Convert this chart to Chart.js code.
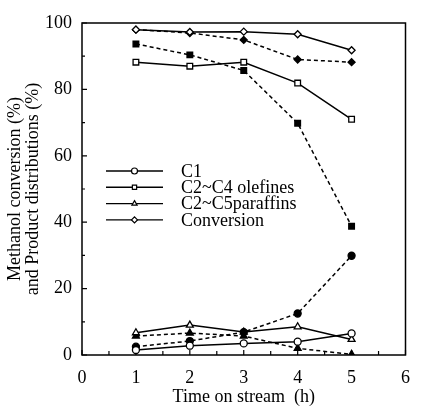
<!DOCTYPE html>
<html>
<head>
<meta charset="utf-8">
<script src="https://cdn.jsdelivr.net/npm/chart.js@4.4.1/dist/chart.umd.min.js"></script>
<style>
html,body{margin:0;padding:0;background:#fff;}
#wrap{width:422px;height:408px;position:relative;}
</style>
</head>
<body>
<div id="wrap"><canvas id="c" width="422" height="408"></canvas></div>
<script>
const times = [1, 2, 3, 4, 5];
const c1Solid = [1.5, 2.8, 3.5, 4.0, 6.5];
const c1Dashed = [2.5, 4.2, 6.9, 12.5, 29.9];
const olefinSolid = [88.2, 87.0, 88.2, 81.9, 71.0];
const olefinDashed = [93.7, 90.4, 85.7, 69.8, 38.8];
const paraffinSolid = [6.7, 9.0, 6.9, 8.5, 4.7];
const paraffinDashed = [5.7, 6.6, 5.7, 2.0, 0.2];
const convSolid = [98.0, 97.3, 97.4, 96.6, 91.8];
const convDashed = [98.0, 97.0, 94.9, 89.0, 88.2];
const legendLabels = ['C1', 'C2~C4 olefines', 'C2~C5paraffins', 'Conversion'];
const xTickLabels = ['0', '1', '2', '3', '4', '5', '6'];
const yTickLabels = ['0', '20', '40', '60', '80', '100'];

const FONT = "'Liberation Serif', 'Times New Roman', serif";
const shapes = ['circle', 'rect', 'triangle', 'rectRot'];
const radii = [3.5, 4, 4, 3.5];

function pts(arr){ return arr.map((v,i)=>({x: times[i], y: v})); }
function ds(arr, idx, dashed){
  return {
    data: pts(arr),
    borderColor: '#000',
    borderWidth: 1.5,
    borderDash: dashed ? [4,3] : [],
    pointStyle: shapes[idx],
    pointRadius: radii[idx],
    pointBorderWidth: 1.3,
    pointBorderColor: '#000',
    pointBackgroundColor: dashed ? '#000' : '#fff',
    tension: 0,
    fill: false
  };
}

const datasets = [
  ds(c1Solid, 0, false), ds(c1Dashed, 0, true),
  ds(olefinSolid, 1, false), ds(olefinDashed, 1, true),
  ds(paraffinSolid, 2, false), ds(paraffinDashed, 2, true),
  ds(convSolid, 3, false), ds(convDashed, 3, true)
];

const framePlugin = {
  id: 'frame',
  beforeDatasetsDraw(chart){
    const {ctx, chartArea: a, scales} = chart;
    ctx.save();
    ctx.strokeStyle = '#000';
    ctx.lineWidth = 1.5;
    ctx.strokeRect(a.left, a.top, a.right - a.left, a.bottom - a.top);
    ctx.lineWidth = 1.2;
    ctx.beginPath();
    for (let v = 0; v <= 6; v += 0.5) {
      const px = scales.x.getPixelForValue(v);
      const len = (v % 1 === 0) ? 5 : 4;
      ctx.moveTo(px, a.bottom); ctx.lineTo(px, a.bottom - len);
    }
    for (let v = 0; v <= 100; v += 10) {
      const py = scales.y.getPixelForValue(v);
      const len = (v % 20 === 0) ? 5 : 3;
      ctx.moveTo(a.left, py); ctx.lineTo(a.left + len, py);
    }
    ctx.stroke();
    ctx.restore();
  },
  afterDraw(chart){
    const {ctx} = chart;
    const x0 = 106, x1 = 163, tx = 181, y0 = 171, dy = 16.3;
    ctx.save();
    legendLabels.forEach((lab, i) => {
      const y = y0 + i * dy;
      ctx.strokeStyle = '#000';
      ctx.lineWidth = 1.4;
      ctx.setLineDash([]);
      ctx.beginPath(); ctx.moveTo(x0, y); ctx.lineTo(x1, y); ctx.stroke();
      ctx.fillStyle = '#fff';
      ctx.lineWidth = 1.2;
      Chart.helpers.drawPoint(ctx, {pointStyle: shapes[i], radius: 3, rotation: 0, borderWidth: 1.2}, (x0 + x1) / 2, y);
      ctx.fillStyle = '#000';
      ctx.font = '18px ' + FONT;
      ctx.textBaseline = 'middle';
      ctx.textAlign = 'left';
      ctx.fillText(lab, tx, y + 1);
    });
    ctx.restore();
  }
};

new Chart(document.getElementById('c'), {
  type: 'line',
  data: { datasets },
  options: {
    responsive: false,
    animation: false,
    devicePixelRatio: 1,
    layout: { padding: { left: 0, top: 23, right: 7, bottom: 0 } },
    plugins: { legend: { display: false }, tooltip: { enabled: false } },
    scales: {
      x: {
        type: 'linear', min: 0, max: 6,
        afterFit(s){ s.height = 53; },
        afterBuildTicks(s){ s.ticks = xTickLabels.map(t => ({value: Number(t)})); },
        ticks: { stepSize: 1, color: '#000', font: { family: FONT, size: 18 }, padding: 12,
                 callback: (v) => String(v) },
        grid: { display: false, drawTicks: false },
        border: { display: false },
        title: { display: true, text: 'Time on stream  (h)', color: '#000',
                 font: { family: FONT, size: 18 }, padding: { top: 0, bottom: 0 } }
      },
      y: {
        type: 'linear', min: 0, max: 100,
        afterFit(s){ s.width = 82; },
        afterBuildTicks(s){ s.ticks = yTickLabels.map(t => ({value: Number(t)})); },
        ticks: { stepSize: 20, color: '#000', font: { family: FONT, size: 18 }, padding: 10,
                 callback: (v) => String(v) },
        grid: { display: false, drawTicks: false },
        border: { display: false },
        title: { display: true, text: ['Methanol conversion (%)', 'and Product distributions (%)'],
                 color: '#000', font: { family: FONT, size: 18, lineHeight: 1.0 },
                 padding: { top: 6, bottom: 0 } }
      }
    }
  },
  plugins: [framePlugin]
});
</script>
</body>
</html>
